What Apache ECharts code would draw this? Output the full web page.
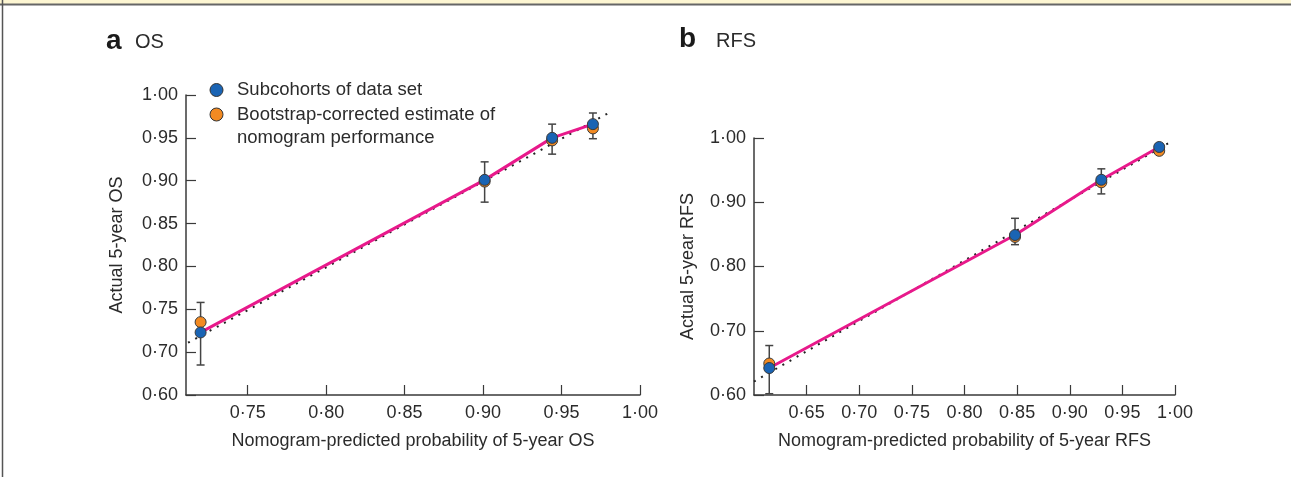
<!DOCTYPE html>
<html>
<head>
<meta charset="utf-8">
<script src="https://cdn.jsdelivr.net/npm/echarts@6/dist/echarts.min.js"></script>
<style>
  html, body { margin: 0; padding: 0; background: #fff; }
  #chart { width: 1291px; height: 477px; }
</style>
</head>
<body>
<div id="chart"></div>
<script>
// panel a - OS
var predA = [0.720, 0.901, 0.944, 0.970];
var obsA = [0.723, 0.901, 0.950, 0.966];
var corrA = [0.735, 0.899, 0.947, 0.961];
var lowA = [0.685, 0.875, 0.931, 0.949];
var highA = [0.758, 0.922, 0.966, 0.979];
var diagA = [[0.712, 0.711], [0.980, 0.979]];
var xTicksA = [0.75, 0.80, 0.85, 0.90, 0.95, 1.00];

// panel b - RFS
var predB = [0.6145, 0.848, 0.930, 0.985];
var obsB = [0.642, 0.849, 0.935, 0.986];
var corrB = [0.649, 0.846, 0.931, 0.980];
var lowB = [0.602, 0.834, 0.913, 0.977];
var highB = [0.677, 0.875, 0.952, 0.990];
var diagB = [[0.600, 0.621], [0.995, 0.993]];
var xTicksB = [0.65, 0.70, 0.75, 0.80, 0.85, 0.90, 0.95, 1.00];

var textColor = '#2b2b2b';
var axisColor = '#3a3a3a';
var blue = '#1a64b4';
var orange = '#f28a22';
var pink = '#e8198b';
var font = 'Liberation Sans, Arial, sans-serif';

function pairs(xs, ys) {
    return xs.map(function (x, i) { return [x, ys[i]]; });
}
function triples(xs, lo, hi) {
    return xs.map(function (x, i) { return [x, lo[i], hi[i]]; });
}
function fmt(v) {
    return v.toFixed(2).replace('.', '·');
}

function errorBar(params, api) {
    var x = api.value(0);
    var top = api.coord([x, api.value(2)]);
    var bot = api.coord([x, api.value(1)]);
    var w = 4;
    var st = { stroke: '#444', lineWidth: 1.5 };
    return {
        type: 'group',
        children: [
            { type: 'line', shape: { x1: top[0], y1: top[1], x2: bot[0], y2: bot[1] }, style: st },
            { type: 'line', shape: { x1: top[0] - w, y1: top[1], x2: top[0] + w, y2: top[1] }, style: st },
            { type: 'line', shape: { x1: bot[0] - w, y1: bot[1], x2: bot[0] + w, y2: bot[1] }, style: st }
        ]
    };
}

function xAxisOpt(idx, min, ticks, name) {
    return {
        gridIndex: idx, type: 'value', min: min, max: 1.0,
        name: name, nameLocation: 'middle', nameGap: 37,
        nameTextStyle: { color: textColor, fontSize: 18, fontFamily: font },
        axisLine: { onZero: false, lineStyle: { color: axisColor, width: 1.5 } },
        axisTick: { inside: true, length: 10, customValues: ticks, lineStyle: { color: axisColor, width: 1.2 } },
        axisLabel: { customValues: ticks, margin: 9, color: textColor, fontSize: 18, fontFamily: font, formatter: fmt },
        splitLine: { show: false }
    };
}

function yAxisOpt(idx, min, interval, name, gap, fmtFn) {
    return {
        gridIndex: idx, type: 'value', min: min, max: 1.0, interval: interval,
        name: name, nameLocation: 'middle', nameGap: gap,
        nameTextStyle: { color: textColor, fontSize: 18, fontFamily: font },
        axisLine: { onZero: false, lineStyle: { color: axisColor, width: 1.5 } },
        axisTick: { inside: true, length: 10, lineStyle: { color: axisColor, width: 1.2 } },
        axisLabel: { margin: 8, color: textColor, fontSize: 18, fontFamily: font, formatter: fmtFn },
        splitLine: { show: false }
    };
}

function panelSeries(idx, diag, pred, obs, corr, lo, hi) {
    return [
        {
            type: 'line', xAxisIndex: idx, yAxisIndex: idx, data: diag,
            symbol: 'none', silent: true, z: 1,
            lineStyle: { color: '#222', width: 2, type: [2, 6.2] }
        },
        {
            type: 'line', xAxisIndex: idx, yAxisIndex: idx, data: pairs(pred, obs),
            symbol: 'none', silent: true, z: 2,
            lineStyle: { color: pink, width: 3 }
        },
        {
            type: 'custom', xAxisIndex: idx, yAxisIndex: idx, data: triples(pred, lo, hi),
            renderItem: errorBar, encode: { x: 0, y: [1, 2] }, z: 3
        },
        {
            type: 'scatter', xAxisIndex: idx, yAxisIndex: idx, data: pairs(pred, corr),
            symbolSize: 11, z: 4,
            itemStyle: { color: orange, borderColor: '#3a3a3a', borderWidth: 1, opacity: 1 }
        },
        {
            type: 'scatter', xAxisIndex: idx, yAxisIndex: idx, data: pairs(pred, obs),
            symbolSize: 11, z: 5,
            itemStyle: { color: blue, borderColor: '#3a3a3a', borderWidth: 1, opacity: 1 }
        }
    ];
}

var chart = echarts.init(document.getElementById('chart'));

var option = {
    backgroundColor: '#fff',
    animation: false,
    grid: [
        { left: 186, top: 95, width: 454, height: 300 },
        { left: 754, top: 138, width: 421, height: 257 }
    ],
    xAxis: [
        xAxisOpt(0, 0.7107, xTicksA, 'Nomogram-predicted probability of 5-year OS'),
        xAxisOpt(1, 0.60, xTicksB, 'Nomogram-predicted probability of 5-year RFS')
    ],
    yAxis: [
        // the OS axis is broken: the bottom tick is labelled 0·60
        yAxisOpt(0, 0.65, 0.05, 'Actual 5-year OS', 60, function (v) {
            return v < 0.66 ? '0·60' : fmt(v);
        }),
        yAxisOpt(1, 0.60, 0.10, 'Actual 5-year RFS', 57, fmt)
    ],
    series: panelSeries(0, diagA, predA, obsA, corrA, lowA, highA)
        .concat(panelSeries(1, diagB, predB, obsB, corrB, lowB, highB)),
    graphic: [
        // page frame
        { type: 'rect', shape: { x: 0, y: 0, width: 1291, height: 4 }, style: { fill: '#fdf6d2' }, silent: true },
        { type: 'line', shape: { x1: 0, y1: 4.5, x2: 1291, y2: 4.5 }, style: { stroke: '#666', lineWidth: 2 }, silent: true },
        { type: 'line', shape: { x1: 2.5, y1: 0, x2: 2.5, y2: 477 }, style: { stroke: '#555', lineWidth: 1.5 }, silent: true },
        // panel titles
        { type: 'text', left: 106, top: 27, style: { text: 'a', fill: '#1a1a1a', font: 'bold 28px ' + font } },
        { type: 'text', left: 135, top: 32, style: { text: 'OS', fill: textColor, font: '20px ' + font } },
        { type: 'text', left: 679, top: 25, style: { text: 'b', fill: '#1a1a1a', font: 'bold 28px ' + font } },
        { type: 'text', left: 716, top: 31, style: { text: 'RFS', fill: textColor, font: '20px ' + font } },
        // legend
        { type: 'circle', shape: { cx: 216.5, cy: 90, r: 6.5 }, style: { fill: blue, stroke: '#333', lineWidth: 1 } },
        { type: 'text', left: 237, top: 80, style: { text: 'Subcohorts of data set', fill: textColor, font: '18.5px ' + font } },
        { type: 'circle', shape: { cx: 216.5, cy: 114.5, r: 6.5 }, style: { fill: orange, stroke: '#333', lineWidth: 1 } },
        { type: 'text', left: 237, top: 104, style: { text: 'Bootstrap-corrected estimate of\nnomogram performance', fill: textColor, font: '18.5px ' + font, lineHeight: 22.5 } }
    ]
};

chart.setOption(option);
window.addEventListener('resize', function () {
    chart.resize();
});
</script>
</body>
</html>
